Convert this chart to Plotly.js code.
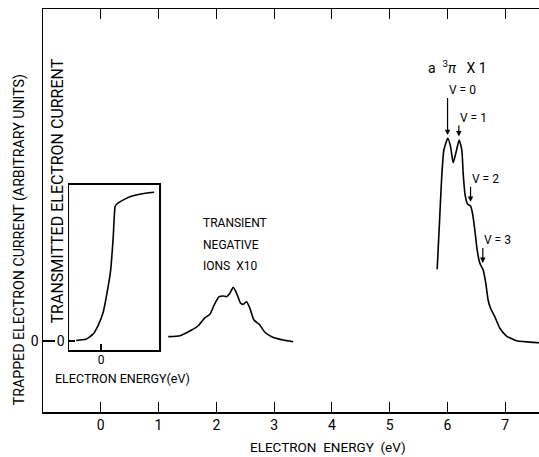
<!DOCTYPE html>
<html>
<head>
<meta charset="utf-8">
<script src="https://cdn.plot.ly/plotly-3.0.1.min.js"></script>
<style>
html, body { margin: 0; padding: 0; overflow: hidden; background: #fff; }
#chart { width: 580px; height: 457px; }
</style>
</head>
<body>
<div id="chart"></div>
<script>
// Transient negative ions (x10) curve
const ionEnergy = [1.168, 1.370, 1.573, 1.687, 1.803, 1.889, 1.976, 2.050, 2.119, 2.178, 2.235, 2.292, 2.351, 2.420, 2.465, 2.524, 2.581, 2.651, 2.742, 2.841, 2.957, 3.157, 3.330];
const ionCurrent = [0.061, 0.075, 0.155, 0.215, 0.328, 0.376, 0.531, 0.624, 0.634, 0.624, 0.672, 0.756, 0.672, 0.531, 0.517, 0.554, 0.461, 0.296, 0.235, 0.123, 0.061, 0.014, -0.010];

// a 3Pi (x1) curve
const piEnergy = [5.822, 5.856, 5.898, 5.938, 6.007, 6.054, 6.099, 6.145, 6.202, 6.249, 6.272, 6.306, 6.348, 6.400, 6.434, 6.474, 6.514, 6.561, 6.618, 6.664, 6.704, 6.746, 6.820, 6.907, 7.022, 7.196, 7.569, 7.750];
const piCurrent = [1.010, 1.563, 2.268, 2.690, 2.855, 2.737, 2.511, 2.644, 2.831, 2.690, 2.362, 2.056, 1.930, 1.901, 1.799, 1.563, 1.282, 1.094, 1.000, 0.813, 0.577, 0.461, 0.342, 0.179, 0.070, 0.004, -0.024, -0.030];

// Inset: transmitted electron current
const insetEnergy = [-0.431, -0.263, -0.144, -0.055, 0.035, 0.100, 0.166, 0.210, 0.244, 0.273, 0.363, 0.512, 0.690, 0.917];
const insetCurrent = [0.008, 0.023, 0.093, 0.211, 0.397, 0.660, 0.990, 1.450, 1.893, 1.930, 1.977, 2.034, 2.070, 2.094];

// Vibrational level labels
const levelLabels = ['V = 0', 'V = 1', 'V = 2', 'V = 3'];

// Tick labels
const mainXTicks = [0, 1, 2, 3, 4, 5, 6, 7];
const mainXTickText = ['0', '1', '2', '3', '4', '5', '6', '7'];
const mainYTicks = [0];
const mainYTickText = ['0'];
const insetXTicks = [0];
const insetXTickText = ['0'];
const insetYTicks = [0];
const insetYTickText = ['0'];

const FONT = "Roboto, 'Liberation Sans', sans-serif";
const lineStyle = { color: '#000', width: 1.6, shape: 'spline', smoothing: 0.5 };

const traces = [
  { x: ionEnergy, y: ionCurrent, type: 'scatter', mode: 'lines', line: lineStyle, xaxis: 'x', yaxis: 'y', hoverinfo: 'skip' },
  { x: piEnergy, y: piCurrent, type: 'scatter', mode: 'lines', line: lineStyle, xaxis: 'x', yaxis: 'y', hoverinfo: 'skip' },
  { x: insetEnergy, y: insetCurrent, type: 'scatter', mode: 'lines', line: lineStyle, xaxis: 'x2', yaxis: 'y2', hoverinfo: 'skip' }
];

// label text anchored at the arrow tail; arrow drops vertically to the peak
const levelArrow = (x, y, ay, t) => ({
  x: x, y: y, xref: 'x', yref: 'y', text: t, showarrow: true,
  ax: 0, ay: ay, xanchor: 'left', yanchor: 'bottom',
  arrowhead: 2, arrowsize: 0.9, arrowwidth: 1.2, arrowcolor: '#000',
  font: { family: FONT, size: 12, color: '#000' }, borderpad: 0
});
const label = (x, y, t, size, anchor) => ({
  x: x, y: y, xref: 'x', yref: 'y', text: t, showarrow: false,
  font: { family: FONT, size: size, color: '#000' }, xanchor: anchor || 'center', yanchor: 'middle'
});

const tickFont = { family: FONT, size: 14, color: '#000' };

const layout = {
  width: 580, height: 457,
  margin: { l: 43, r: 17, t: 9, b: 45 },
  paper_bgcolor: '#fff', plot_bgcolor: '#fff',
  showlegend: false,
  font: { family: FONT, size: 14, color: '#000' },
  xaxis: {
    range: [-1, 8], tickvals: mainXTicks, ticktext: mainXTickText,
    ticks: 'inside', ticklen: 10, tickwidth: 1.2, tickcolor: '#000',
    showline: true, linecolor: '#000', linewidth: 1.5, mirror: 'ticks',
    showgrid: false, zeroline: false, tickfont: tickFont
  },
  yaxis: {
    range: [-1, 4.676], tickvals: mainYTicks, ticktext: mainYTickText,
    ticks: 'inside', ticklen: 12, tickwidth: 1.2, tickcolor: '#000',
    showline: true, linecolor: '#000', linewidth: 1.5, mirror: 'ticks',
    showgrid: false, zeroline: false, tickfont: tickFont
  },
  xaxis2: {
    domain: [0.05, 0.2231], anchor: 'y2',
    range: [-0.554, 1.003], tickvals: insetXTicks, ticktext: insetXTickText,
    ticks: 'inside', ticklen: 6, tickwidth: 1.2, tickcolor: '#000',
    showline: true, linecolor: '#000', linewidth: 1.5, mirror: true,
    showgrid: false, zeroline: false, ticklabelstandoff: -2,
    tickfont: { family: FONT, size: 12, color: '#000' }
  },
  yaxis2: {
    domain: [0.1538, 0.5633], anchor: 'x2',
    range: [-0.127, 2.197], tickvals: insetYTicks, ticktext: insetYTickText,
    ticks: 'inside', ticklen: 6, tickwidth: 1.2, tickcolor: '#000',
    showline: true, linecolor: '#000', linewidth: 1.5, mirror: true,
    showgrid: false, zeroline: false, tickfont: tickFont
  },
  annotations: [
    { xref: 'x', yref: 'paper', x: 3.94, y: -0.0868, text: 'ELECTRON  ENERGY  (eV)', showarrow: false,
      font: { family: FONT, size: 13.5, color: '#000' }, xanchor: 'center', yanchor: 'middle' },
    { xref: 'paper', yref: 'y', x: -0.046, y: 1.42, text: 'TRAPPED ELECTRON CURRENT (ARBITRARY UNITS)', showarrow: false,
      textangle: -90, font: { family: FONT, size: 14.2, color: '#000' }, xanchor: 'center', yanchor: 'middle' },
    { xref: 'paper', yref: 'y', x: 0.0288, y: 2.12, text: 'TRANSMITTED ELECTRON CURRENT', showarrow: false,
      textangle: -90, font: { family: FONT, size: 16, color: '#000' }, xanchor: 'center', yanchor: 'middle' },
    { xref: 'x', yref: 'paper', x: 0.384, y: 0.0830, text: 'ELECTRON ENERGY(eV)', showarrow: false,
      font: { family: FONT, size: 12.5, color: '#000' }, xanchor: 'center', yanchor: 'middle' },
    label(1.734, 1.669, 'TRANSIENT', 12, 'left'),
    label(1.734, 1.352, 'NEGATIVE', 12, 'left'),
    label(1.734, 1.056, 'IONS  X10', 12, 'left'),
    label(6.18, 3.86, 'a  <sup>3</sup><i>π</i>   X 1', 14),
    levelArrow(6.002, 2.90, -37, levelLabels[0]),
    levelArrow(6.197, 2.88, -11, levelLabels[1]),
    levelArrow(6.400, 1.96, -15, levelLabels[2]),
    levelArrow(6.612, 1.10, -15, levelLabels[3])
  ]
};

Plotly.newPlot('chart', traces, layout, { displayModeBar: false, staticPlot: true });
</script>
</body>
</html>
